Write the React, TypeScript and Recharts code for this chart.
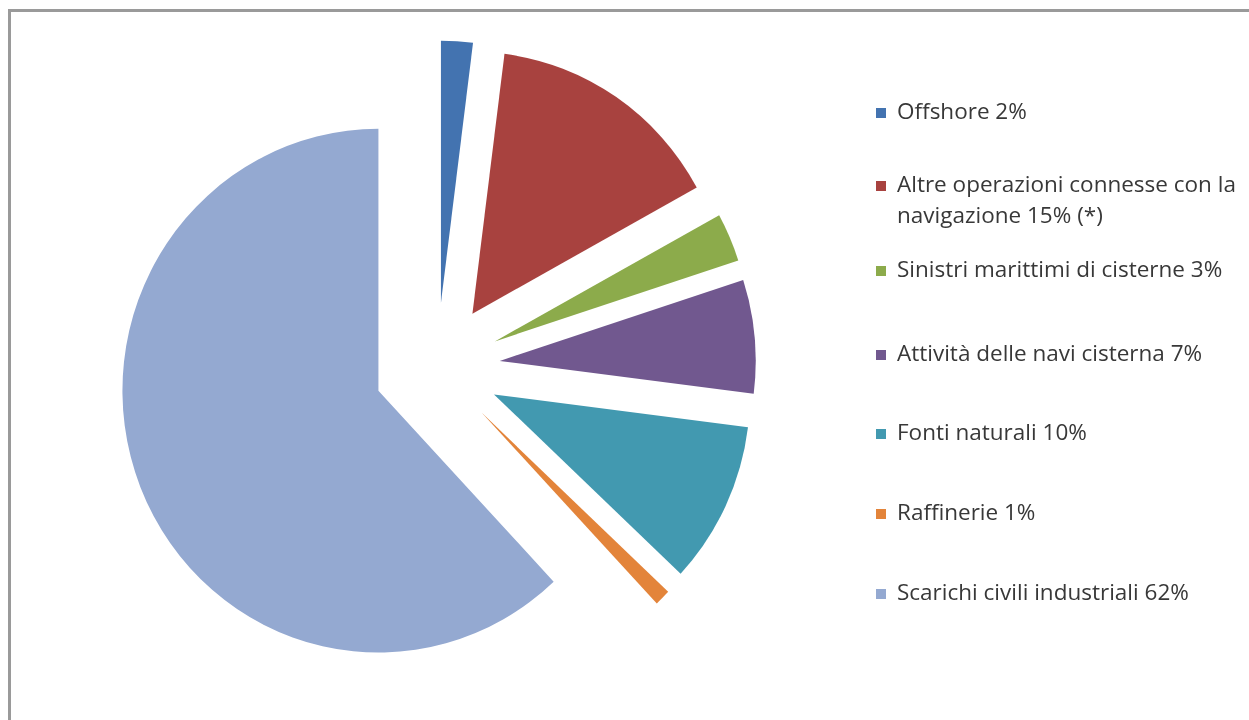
import React from 'react';
import { PieChart, Pie, Cell } from 'recharts';

// ---- data ----
const categories = [
  'Offshore',
  'Altre operazioni connesse con la navigazione',
  'Sinistri marittimi di cisterne',
  'Attività delle navi cisterna',
  'Fonti naturali',
  'Raffinerie',
  'Scarichi civili industriali',
];
const values = [2, 15, 3, 7, 10, 1, 62];
const footnotes = ['', ' (*)', '', '', '', '', ''];
const colors = ['#4373B0', '#A8423F', '#8CAB4B', '#71588F', '#4299B0', '#E3843A', '#94A9D1'];

// ---- layout / style ----
const CHART_W = 1233;
const CHART_H = 704;
const CX = 429;
const CY = 359;
const R = 256;
const SCALE_Y = 1.023;
const EXPLODE = 63;
const FONT = "'Open Sans', sans-serif";
const FS = 22.5;
const LH = 31;
const BASE = 24.2;
const legendBaselines = [111, 184, 269, 353, 432, 512, 592];

const total = values.reduce((a, b) => a + b, 0);
const slices = categories.map((name, i) => {
  const before = values.slice(0, i).reduce((a, b) => a + b, 0);
  const a0 = (before / total) * 360;
  const a1 = ((before + values[i]) / total) * 360;
  const mid = (((a0 + a1) / 2) * Math.PI) / 180;
  return {
    name,
    value: values[i],
    color: colors[i],
    startAngle: 90 - a0,
    endAngle: 90 - a1,
    cx: CX + EXPLODE * Math.sin(mid),
    cy: CY - EXPLODE * Math.cos(mid),
  };
});

function LegendBlock() {
  return (
    <div style={{ position: 'absolute', left: 868, top: 0, width: 372, fontFamily: FONT }}>
      {slices.map((s, i) => (
        <div key={s.name} style={{ position: 'absolute', left: 0, top: legendBaselines[i] - BASE, width: 372 }}>
          <span
            style={{
              position: 'absolute',
              left: 0,
              top: BASE - 11,
              width: 10,
              height: 10,
              background: s.color,
            }}
          />
          <div style={{ marginLeft: 21, width: 352, fontSize: FS, lineHeight: LH + 'px', color: '#383838' }}>
            {`${s.name} ${s.value}%${footnotes[i]}`}
          </div>
        </div>
      ))}
    </div>
  );
}

export default function App() {
  return (
    <div style={{ position: 'relative', width: CHART_W, height: CHART_H, overflow: 'hidden' }}>
      <div
        style={{
          position: 'fixed',
          left: 8,
          top: 9,
          width: 1260,
          height: 760,
          borderTop: '3px solid #9a9a9a',
          borderLeft: '3px solid #9a9a9a',
          pointerEvents: 'none',
        }}
      />
      <div style={{ transform: `scaleY(${SCALE_Y})`, transformOrigin: `0px ${CY}px` }}>
        <PieChart width={CHART_W} height={CHART_H} margin={{ top: 0, right: 0, bottom: 0, left: 0 }}>
          {slices.map((s) => (
            <Pie
              key={s.name}
              data={[{ name: s.name, value: s.value }]}
              dataKey="value"
              nameKey="name"
              cx={s.cx}
              cy={s.cy}
              startAngle={s.startAngle}
              endAngle={s.endAngle}
              innerRadius={0}
              outerRadius={R}
              stroke="none"
              isAnimationActive={false}
            >
              <Cell fill={s.color} />
            </Pie>
          ))}
        </PieChart>
      </div>
      <LegendBlock />
    </div>
  );
}
